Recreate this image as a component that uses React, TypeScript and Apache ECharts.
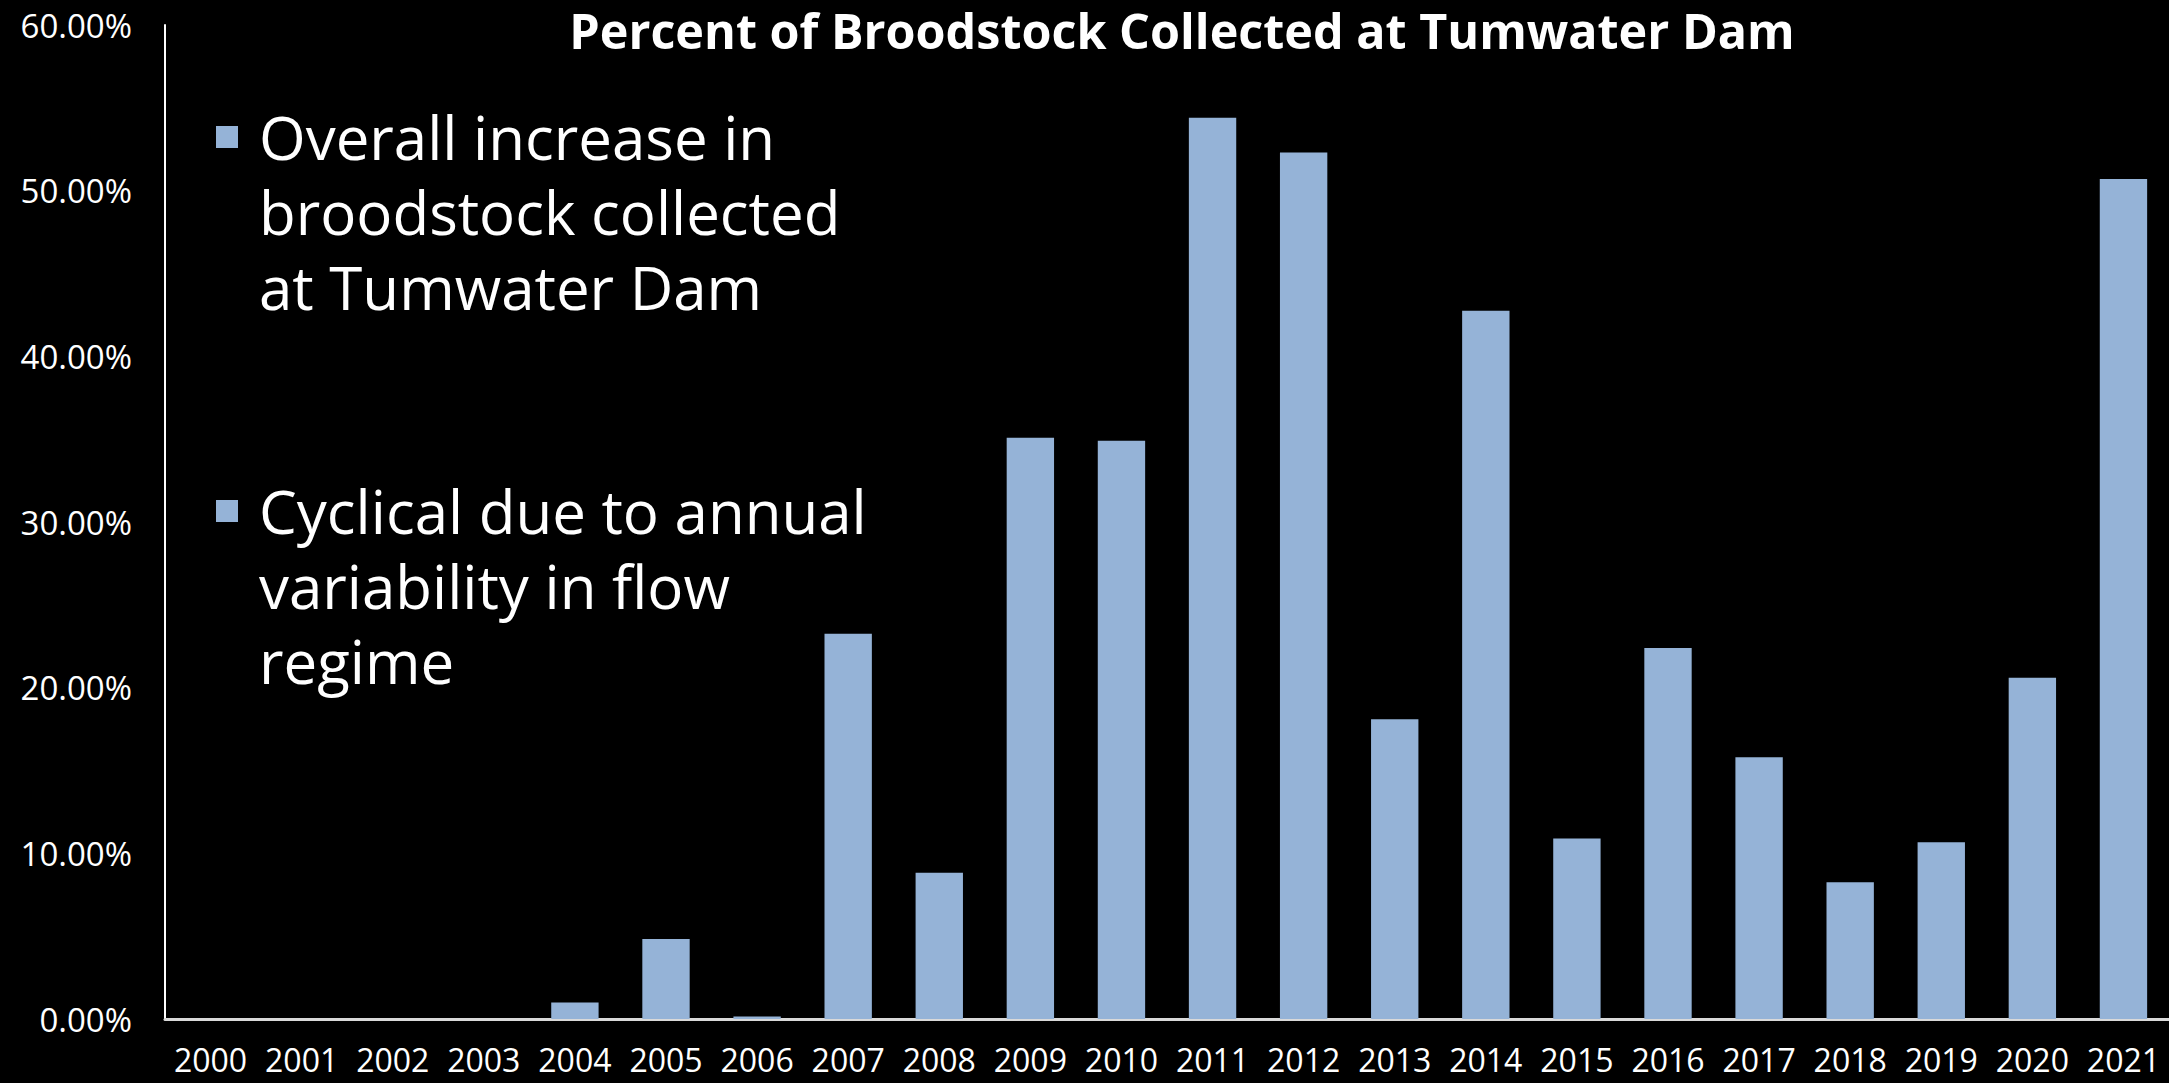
import React, { useEffect, useRef } from "react";
import * as echarts from "echarts";

const years = [
  "2000", "2001", "2002", "2003", "2004", "2005", "2006", "2007", "2008", "2009", "2010",
  "2011", "2012", "2013", "2014", "2015", "2016", "2017", "2018", "2019", "2020", "2021",
];
const percentCollected = [
  0, 0, 0, 0, 1.0, 4.83, 0.15, 23.25, 8.83, 35.08, 34.9,
  54.4, 52.3, 18.1, 42.75, 10.9, 22.4, 15.8, 8.25, 10.67, 20.6, 50.7,
];
const yMin = 0;
const yMax = 60;
const yInterval = 10;
const titleText = "Percent of Broodstock Collected at Tumwater Dam";
const bulletPoints = [
  ["Overall increase in", "broodstock collected", "at Tumwater Dam"],
  ["Cyclical due to annual", "variability in flow", "regime"],
];

const FONT = "'Open Sans', 'Noto Sans', sans-serif";
const BAR_COLOR = "#95B3D7";

export default function App() {
  const ref = useRef<HTMLDivElement>(null);
  useEffect(() => {
    document.body.style.margin = "0";
    document.body.style.background = "#000";
    if (!ref.current) return;
    const chart = echarts.init(ref.current, undefined, { renderer: "svg" });
    const bulletTops = [99, 473];
    const graphics: any[] = [];
    bulletPoints.forEach((lines, i) => {
      graphics.push({
        type: "rect",
        shape: { x: 216, y: bulletTops[i] + 27, width: 22, height: 22 },
        style: { fill: BAR_COLOR },
      });
      graphics.push({
        type: "text",
        x: 259,
        y: bulletTops[i],
        style: {
          text: lines.join("\n"),
          fill: "#ffffff",
          font: `400 60px ${FONT}`,
          lineHeight: 75,
          textAlign: "left",
          textVerticalAlign: "top",
        },
      });
    });
    chart.setOption({
      animation: false,
      backgroundColor: "#000000",
      title: {
        text: titleText,
        left: 1182,
        top: 2,
        padding: 0,
        textAlign: "center",
        textStyle: { color: "#ffffff", fontFamily: FONT, fontWeight: "bold", fontSize: 48.5, lineHeight: 56 },
      },
      grid: { left: 165, right: 0, top: 25, bottom: 64, containLabel: false },
      xAxis: {
        type: "category",
        data: years,
        axisLine: { lineStyle: { color: "#d9d9d9", width: 3 } },
        axisTick: { show: false },
        axisLabel: { color: "#ffffff", fontFamily: FONT, fontSize: 32, margin: 24, interval: 0 },
        splitLine: { show: false },
      },
      yAxis: {
        type: "value",
        min: yMin,
        max: yMax,
        interval: yInterval,
        axisLine: { show: true, lineStyle: { color: "#ffffff", width: 2 } },
        axisTick: { show: false },
        splitLine: { show: false },
        axisLabel: {
          color: "#ffffff",
          fontFamily: FONT,
          fontSize: 33,
          margin: 33,
          formatter: (v: number) => v.toFixed(2) + "%",
        },
      },
      series: [
        {
          type: "bar",
          data: percentCollected,
          barCategoryGap: "48%",
          itemStyle: { color: BAR_COLOR },
        },
      ],
      graphic: graphics,
    });
    return () => chart.dispose();
  }, []);
  return <div ref={ref} style={{ width: 2169, height: 1083, background: "#000" }} />;
}
